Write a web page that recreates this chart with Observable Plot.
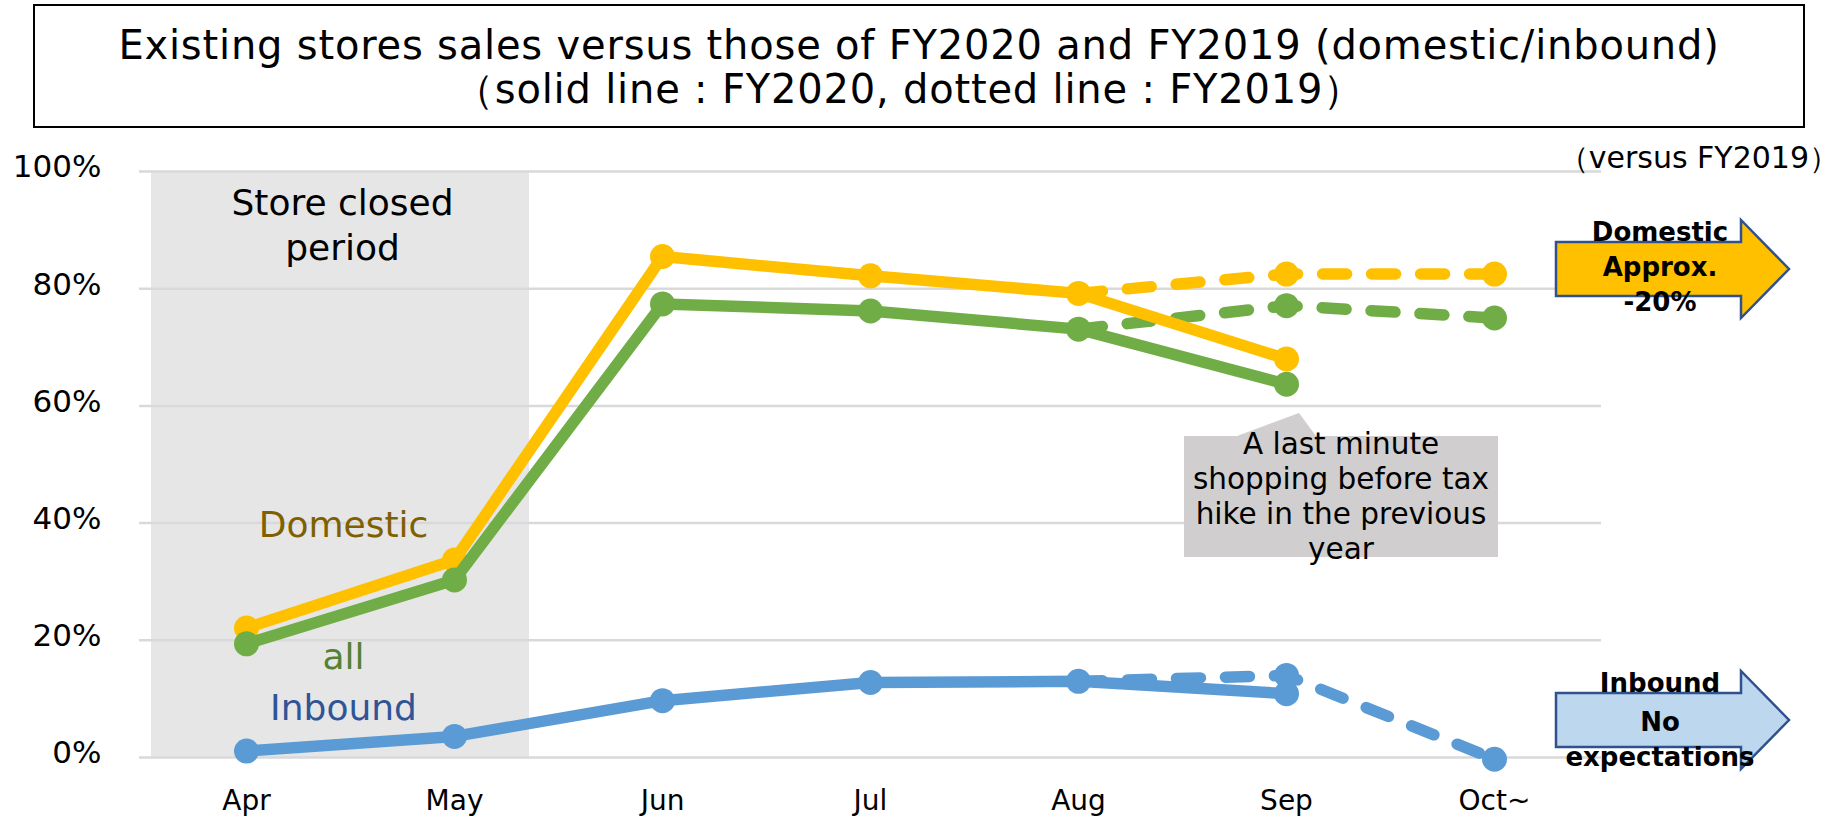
<!DOCTYPE html>
<html>
<head>
<meta charset="utf-8">
<script src="https://cdn.jsdelivr.net/npm/d3@7"></script>
<script src="https://cdn.jsdelivr.net/npm/@observablehq/plot@0.6"></script>
<style>
  html, body { margin: 0; padding: 0; background: #fff; }
  body { width: 1841px; height: 817px; position: relative; overflow: hidden; font-family: "DejaVu Sans", sans-serif; }
  #title {
    position: absolute; left: 33px; top: 4px; width: 1772px; height: 124px;
    box-sizing: border-box; border: 2px solid #000; background: #fff;
    text-align: center; font-size: 40px; letter-spacing: 0.8px; color: #000; z-index: 2;
  }
  #title div { position: absolute; left: 0; right: 0; height: 40px; line-height: 40px; white-space: nowrap; }
  #unit { position: absolute; right: 2px; top: 141px; font-size: 30px; line-height: 34px; color: #000; z-index: 2; }
  #chart { position: absolute; left: 0; top: 0; }
</style>
</head>
<body>
<div id="title"><div style="top:19px">Existing stores sales versus those of FY2020 and FY2019 (domestic/inbound)</div><div style="top:63px;left:-20px">（solid line : FY2020, dotted line : FY2019）</div></div>
<div id="unit">（versus FY2019）</div>
<div id="chart"></div>
<script>
// ---- data ----
const months = ["Apr", "May", "Jun", "Jul", "Aug", "Sep", "Oct~"];
const seriesNames = ["Domestic", "all", "Inbound"];
const seriesColors = ["#ffc000", "#70ad47", "#5b9bd5"];
const labelColors = ["#7f6000", "#548235", "#2f5597"];

// FY2020 (solid), Apr..Sep, % versus FY2019
const domestic2020 = [22.1, 33.7, 85.5, 82.2, 79.2, 68.0];
const all2020 = [19.4, 30.3, 77.4, 76.2, 73.1, 63.7];
const inbound2020 = [1.1, 3.6, 9.7, 12.8, 13.0, 10.9];

// FY2019 (dotted), Aug..Oct~
const months2019 = ["Aug", "Sep", "Oct~"];
const domestic2019 = [79.2, 82.5, 82.5];
const all2019 = [73.1, 77.1, 75.0];
const inbound2019 = [13.0, 14.0, -0.3];

const yTicks = [0, 20, 40, 60, 80, 100];

const closedFrom = ["Apr"];
const closedTo = ["May"];
const closedText = "Store closed\nperiod";
const closedTextValue = 91.2;

const labelMonth = "Apr";
const labelValues = [39.6, 17.1, 8.4];

const calloutText = "A last minute\nshopping before tax\nhike in the previous\nyear";
const arrowTexts = ["Domestic\nApprox.\n-20%", "Inbound\nNo\nexpectations"];
const arrowFills = ["#ffc000", "#bdd7ee"];

// ---- tables ----
const v2020 = [domestic2020, all2020, inbound2020];
const v2019 = [domestic2019, all2019, inbound2019];
const fy2020 = seriesNames.flatMap((s, i) => v2020[i].map((v, j) => ({series: s, month: months[j], value: v})));
const fy2019 = seriesNames.flatMap((s, i) => v2019[i].map((v, j) => ({series: s, month: months2019[j], value: v})));
const closed = closedFrom.map((f, i) => ({from: f, to: closedTo[i]}));
const closedLabel = [{month: closedFrom[0], value: closedTextValue, text: closedText}];
const seriesLabels = seriesNames.map((s, i) => ({month: labelMonth, value: labelValues[i], text: s, color: labelColors[i]}));

const drawOrder = ["Domestic", "all", "Inbound"];

const marks = [
  Plot.rect(closed, {x1: "from", x2: "to", y1: 0, y2: 100, fill: "#e7e6e6", insetLeft: -95, insetRight: -75}),
  Plot.ruleY(yTicks, {stroke: "#d9d9d9", strokeWidth: 2.5}),
  Plot.axisY({ticks: yTicks, tickFormat: d => d + "%", tickSize: 0, tickPadding: 38, fontSize: 31, label: null, dy: -4}),
  Plot.axisX({tickSize: 0, tickPadding: 33, fontSize: 28, label: null}),
  Plot.text(closedLabel, {x: "month", y: "value", text: "text", fontSize: 36, lineHeight: 1.25, fill: "#000", dx: 96}),
];
seriesLabels.forEach(l => {
  marks.push(Plot.text([l], {x: "month", y: "value", text: "text", fontSize: 36, fill: l.color, dx: 97}));
});
// dotted FY2019
drawOrder.forEach(s => {
  const d = fy2019.filter(r => r.series === s);
  marks.push(Plot.line(d, {x: "month", y: "value", stroke: "series", strokeWidth: 11.5, strokeDasharray: "24,25", strokeLinecap: "round", strokeLinejoin: "round"}));
  marks.push(Plot.dot(d.filter(r => r.month !== "Aug"), {x: "month", y: "value", fill: "series", r: 12.5}));
});
// solid FY2020
drawOrder.forEach(s => {
  const d = fy2020.filter(r => r.series === s);
  marks.push(Plot.line(d, {x: "month", y: "value", stroke: "series", strokeWidth: 11.5, strokeLinecap: "round", strokeLinejoin: "round"}));
  marks.push(Plot.dot(d, {x: "month", y: "value", fill: "series", r: 12.5}));
});

const plot = Plot.plot({
  width: 1841,
  height: 817,
  marginTop: 171,
  marginBottom: 60,
  marginLeft: 139,
  marginRight: 240,
  x: {type: "point", domain: months, padding: 0.5},
  y: {domain: [0, 100]},
  color: {domain: seriesNames, range: seriesColors},
  style: {fontFamily: "DejaVu Sans", background: "transparent", color: "#000", overflow: "visible"},
  marks
});
document.getElementById("chart").appendChild(plot);

// ---- annotations (callout and arrows) ----
const svg = d3.select(plot);
const ann = svg.append("g");
// callout
ann.append("path")
  .attr("d", "M1184,436 L1237,436 L1299,413 L1316,436 L1498,436 L1498,557 L1184,557 Z")
  .attr("fill", "#d0cece");
const ct = ann.append("text").attr("font-family", "DejaVu Sans").attr("font-size", 29.5).attr("fill", "#000").attr("text-anchor", "middle");
calloutText.split("\n").forEach((line, i) => {
  ct.append("tspan").attr("x", 1341).attr("y", 444 + i * 35).attr("dy", "0.35em").text(line);
});
// arrows
const arrows = [
  {cy: 269, fill: arrowFills[0], text: arrowTexts[0], ty: [232, 267, 302]},
  {cy: 720, fill: arrowFills[1], text: arrowTexts[1], ty: [683, 722, 757]}
];
arrows.forEach(a => {
  const b0 = a.cy - 27, b1 = a.cy + 27, h0 = a.cy - 49, h1 = a.cy + 49;
  ann.append("path")
    .attr("d", `M1556,${b0} L1741,${b0} L1741,${h0} L1789,${a.cy} L1741,${h1} L1741,${b1} L1556,${b1} Z`)
    .attr("fill", a.fill).attr("stroke", "#2f528f").attr("stroke-width", 2.5).attr("stroke-linejoin", "miter");
  const t = ann.append("text").attr("font-family", "DejaVu Sans").attr("font-weight", "bold")
    .attr("font-size", 26).attr("fill", "#000").attr("text-anchor", "middle");
  a.text.split("\n").forEach((line, i) => {
    t.append("tspan").attr("x", 1660).attr("y", a.ty[i]).attr("dy", "0.35em").text(line);
  });
});
</script>
</body>
</html>
